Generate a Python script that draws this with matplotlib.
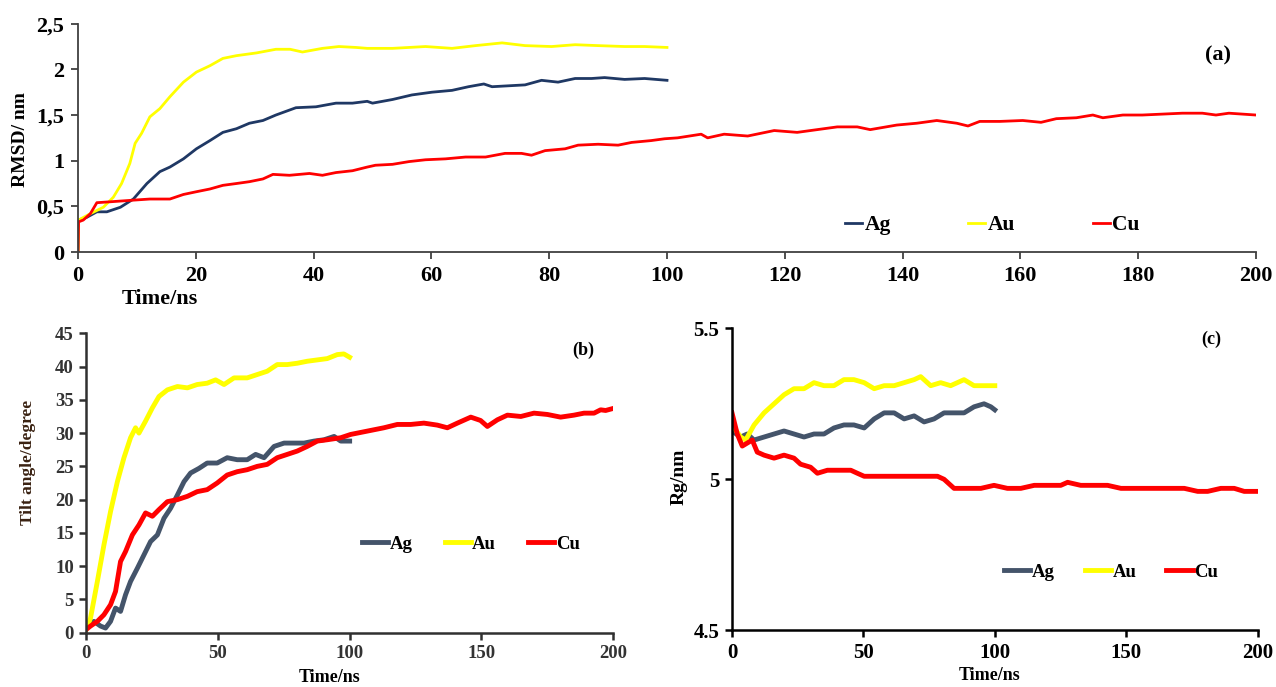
import matplotlib
matplotlib.use("Agg")
import matplotlib.pyplot as plt
from matplotlib.ticker import FixedLocator, FixedFormatter

# ---------------- data: panel (a) RMSD ----------------
a_ag_t = [0, 0.1, 1.5, 3.2, 4.9, 7.2, 9.4, 11.7, 13.9, 15.6, 17.9, 20.1, 22.4, 24.6, 26.9, 29.1,
          31.4, 33.6, 37.0, 40.4, 43.8, 46.6, 49.1, 50.0, 53.4, 56.7, 60.1, 63.5, 66.3, 68.9, 70.3,
          73.1, 75.9, 78.7, 81.5, 84.4, 87.2, 89.4, 92.8, 96.2, 100]
a_ag_v = [0, 0.35, 0.38, 0.44, 0.44, 0.49, 0.58, 0.75, 0.88, 0.93, 1.02, 1.13, 1.22, 1.31, 1.35, 1.41,
          1.44, 1.50, 1.58, 1.59, 1.63, 1.63, 1.65, 1.63, 1.67, 1.72, 1.75, 1.77, 1.81, 1.84, 1.81,
          1.82, 1.83, 1.88, 1.86, 1.90, 1.90, 1.91, 1.89, 1.90, 1.88]
a_au_t = [0, 0.1, 2.1, 4.3, 6.0, 7.4, 8.8, 9.7, 10.8, 12.2, 13.9, 15.6, 17.9, 20.1, 22.4, 24.6,
          26.9, 30.3, 33.6, 36.0, 38.1, 41.5, 44.3, 47.2, 49.1, 53.4, 59.0, 63.5, 67.5, 72.0, 75.9,
          80.4, 84.4, 88.3, 92.8, 96.2, 100]
a_au_v = [0, 0.35, 0.42, 0.49, 0.60, 0.75, 0.97, 1.19, 1.30, 1.48, 1.57, 1.70, 1.86, 1.97, 2.04, 2.12,
          2.15, 2.18, 2.22, 2.22, 2.19, 2.23, 2.25, 2.24, 2.23, 2.23, 2.25, 2.23, 2.26, 2.29, 2.26,
          2.25, 2.27, 2.26, 2.25, 2.25, 2.24]
a_cu_t = [0, 0.1, 0.9, 2.1, 3.2, 5.5, 7.7, 9.9, 12.2, 15.6, 17.9, 20.1, 22.4, 24.6, 26.9, 29.1, 31.4,
          33.1, 35.9, 39.3, 41.5, 43.8, 46.6, 49.1, 50.5, 53.4, 56.2, 59.0, 62.4, 65.8, 69.2, 72.5,
          75.3, 77.0, 79.3, 82.7, 84.9, 88.3, 91.7, 94.0, 97.3, 99.6, 101.8, 105.8, 106.9, 109.7,
          113.7, 118.2, 122.1, 125.5, 128.9, 132.3, 134.5, 139.0, 142.4, 145.8, 149.2, 151.1, 153.1,
          156.5, 160.4, 163.5, 166.1, 169.5, 172.3, 174.0, 177.4, 180.7, 184.1, 187.5, 190.9, 193.2,
          195.4, 200]
a_cu_v = [0, 0.33, 0.35, 0.42, 0.54, 0.55, 0.56, 0.57, 0.58, 0.58, 0.63, 0.66, 0.69, 0.73, 0.75, 0.77,
          0.80, 0.85, 0.84, 0.86, 0.84, 0.87, 0.89, 0.93, 0.95, 0.96, 0.99, 1.01, 1.02, 1.04, 1.04,
          1.08, 1.08, 1.06, 1.11, 1.13, 1.17, 1.18, 1.17, 1.20, 1.22, 1.24, 1.25, 1.29, 1.25, 1.29,
          1.27, 1.33, 1.31, 1.34, 1.37, 1.37, 1.34, 1.39, 1.41, 1.44, 1.41, 1.38, 1.43, 1.43, 1.44,
          1.42, 1.46, 1.47, 1.50, 1.47, 1.50, 1.50, 1.51, 1.52, 1.52, 1.50, 1.52, 1.50]
a_xticks = [0, 20, 40, 60, 80, 100, 120, 140, 160, 180, 200]
a_yticks = [0, 0.5, 1, 1.5, 2, 2.5]
a_yticklabels = ["0", "0,5", "1", "1,5", "2", "2,5"]

# ---------------- data: panel (b) tilt angle ----------------
b_ag_t = [0, 2.9, 5.4, 7.3, 9.2, 11.1, 13.0, 14.9, 16.8, 19.4, 21.9, 24.4, 27.0, 29.5, 32.0, 34.6,
          37.1, 39.6, 42.8, 45.9, 49.7, 53.5, 57.3, 61.1, 64.3, 67.5, 71.3, 75.1, 78.9, 82.7, 86.5,
          90.3, 94.1, 96.6, 100]
b_ag_v = [1.2, 1.7, 1.0, 0.7, 1.7, 3.7, 3.2, 5.7, 7.7, 9.7, 11.7, 13.7, 14.7, 17.2, 18.7, 20.7,
          22.7, 24.0, 24.7, 25.5, 25.5, 26.3, 26.0, 26.0, 26.8, 26.3, 28.0, 28.5, 28.5, 28.5, 28.8,
          29.0, 29.5, 28.8, 28.8]
b_au_t = [0, 1.6, 4.2, 6.7, 9.2, 11.8, 14.3, 16.8, 18.7, 20.0, 22.5, 25.1, 27.6, 30.8, 34.6, 38.4,
          42.1, 45.9, 49.1, 52.3, 56.1, 61.1, 64.9, 68.7, 72.5, 76.3, 80.1, 83.9, 87.7, 91.5, 95.3,
          97.8, 100]
b_au_v = [0.5, 2.2, 7.7, 13.2, 18.2, 22.7, 26.3, 29.3, 30.8, 30.0, 31.8, 33.8, 35.5, 36.5, 37.0, 36.8,
          37.3, 37.5, 38.0, 37.3, 38.3, 38.3, 38.8, 39.3, 40.3, 40.3, 40.5, 40.8, 41.0, 41.2, 41.8,
          41.9, 41.4]
b_cu_t = [0, 1.6, 4.2, 6.7, 9.2, 11.1, 13.0, 14.9, 17.5, 20.0, 22.5, 25.1, 27.6, 30.8, 34.6, 38.4,
          42.1, 45.9, 49.7, 53.5, 57.3, 61.1, 64.9, 68.7, 72.5, 76.3, 80.1, 83.9, 87.7, 91.5, 96.6,
          100.4, 106.7, 113.0, 118.1, 123.2, 128.2, 133.3, 137.1, 140.9, 146.0, 149.7, 152.3, 156.1,
          159.9, 165.0, 170.0, 175.1, 180.1, 185.2, 189.0, 192.8, 195.3, 197.2, 200]
b_cu_v = [0.5, 1.0, 1.7, 2.7, 4.2, 6.2, 10.7, 12.2, 14.7, 16.2, 18.0, 17.5, 18.5, 19.7, 20.0, 20.5,
          21.2, 21.5, 22.5, 23.7, 24.2, 24.5, 25.0, 25.3, 26.3, 26.8, 27.3, 28.0, 28.8, 29.0, 29.3,
          29.8, 30.3, 30.8, 31.3, 31.3, 31.5, 31.2, 30.8, 31.5, 32.4, 31.9, 31.0, 32.0, 32.7, 32.5,
          33.0, 32.8, 32.4, 32.7, 33.0, 33.0, 33.5, 33.4, 33.7]
b_xticks = [0, 50, 100, 150, 200]
b_yticks = [0, 5, 10, 15, 20, 25, 30, 35, 40, 45]

# ---------------- data: panel (c) radius of gyration ----------------
c_ag_t = [0, 3.3, 5.8, 8.4, 12.2, 16.0, 19.8, 23.6, 27.4, 31.2, 35.0, 38.8, 42.6, 46.4, 50.3, 54.1,
          57.9, 61.7, 65.5, 69.3, 73.1, 76.9, 80.7, 84.5, 88.3, 92.1, 95.9, 98.5, 100]
c_ag_v = [5.16, 5.14, 5.15, 5.13, 5.14, 5.15, 5.16, 5.15, 5.14, 5.15, 5.15, 5.17, 5.18, 5.18, 5.17,
          5.20, 5.22, 5.22, 5.20, 5.21, 5.19, 5.20, 5.22, 5.22, 5.22, 5.24, 5.25, 5.24, 5.23]
c_au_t = [0, 3.3, 5.2, 8.4, 12.2, 16.0, 19.8, 23.6, 27.4, 31.2, 35.0, 38.8, 42.6, 46.4, 50.3, 54.1,
          57.9, 61.7, 65.5, 69.3, 71.8, 75.6, 79.4, 83.2, 88.3, 92.1, 95.9, 100]
c_au_v = [5.18, 5.14, 5.13, 5.18, 5.22, 5.25, 5.28, 5.30, 5.30, 5.32, 5.31, 5.31, 5.33, 5.33, 5.32,
          5.30, 5.31, 5.31, 5.32, 5.33, 5.34, 5.31, 5.32, 5.31, 5.33, 5.31, 5.31, 5.31]
c_cu_t = [0, 2.0, 3.9, 5.8, 7.7, 9.6, 12.2, 16.0, 19.8, 23.6, 26.1, 29.9, 32.5, 36.3, 41.4, 45.2,
          47.7, 50.3, 54.1, 59.1, 64.2, 69.3, 74.4, 78.2, 80.7, 84.5, 89.6, 94.7, 99.7, 104.8, 109.9,
          115.0, 120.1, 125.1, 127.7, 132.7, 137.8, 142.9, 148.0, 153.1, 158.1, 163.2, 168.3, 172.1,
          177.2, 181.0, 186.0, 191.1, 194.9, 198.7, 200]
c_cu_v = [5.22, 5.15, 5.11, 5.12, 5.13, 5.09, 5.08, 5.07, 5.08, 5.07, 5.05, 5.04, 5.02, 5.03, 5.03,
          5.03, 5.02, 5.01, 5.01, 5.01, 5.01, 5.01, 5.01, 5.01, 5.00, 4.97, 4.97, 4.97, 4.98, 4.97,
          4.97, 4.98, 4.98, 4.98, 4.99, 4.98, 4.98, 4.98, 4.97, 4.97, 4.97, 4.97, 4.97, 4.97, 4.96,
          4.96, 4.97, 4.97, 4.96, 4.96, 4.96]
c_xticks = [0, 50, 100, 150, 200]
c_yticks = [4.5, 5, 5.5]
c_yticklabels = ["4.5", "5", "5.5"]

labels = ["Ag", "Au", "Cu"]

# ---------------- style ----------------
plt.rcParams["font.family"] = ["Liberation Serif", "DejaVu Serif"]
plt.rcParams["font.weight"] = "bold"
W, H = 1276, 687
fig = plt.figure(figsize=(W / 100, H / 100), dpi=100)

def fx(px):
    return px / W

def fy(py):
    return 1 - py / H

AG_A = "#1f3864"
AG_BC = "#44546a"
AU = "#ffff00"
CU = "#ff0000"

def style_axes(ax, spine_color, lw, fs, tick_color, pad):
    for s in ["top", "right"]:
        ax.spines[s].set_visible(False)
    for s in ["left", "bottom"]:
        ax.spines[s].set_color(spine_color)
        ax.spines[s].set_linewidth(lw)
    ax.tick_params(direction="out", length=5, width=lw, color=spine_color,
                   labelsize=fs, labelcolor=tick_color, pad=pad)
    for t in ax.get_xticklabels() + ax.get_yticklabels():
        t.set_fontweight("bold")

# ---------------- panel (a) ----------------
axa = fig.add_axes([fx(78), fy(252), fx(1256) - fx(78), fy(23.7) - fy(252)])
axa.plot(a_ag_t, a_ag_v, color=AG_A, lw=2.0, label=labels[0])
axa.plot(a_au_t, a_au_v, color=AU, lw=2.0, label=labels[1])
axa.plot(a_cu_t, a_cu_v, color=CU, lw=2.0, label=labels[2])
axa.set_xlim(0, 200)
axa.set_ylim(0, 2.5)
axa.xaxis.set_major_locator(FixedLocator(a_xticks))
axa.yaxis.set_major_locator(FixedLocator(a_yticks))
axa.yaxis.set_major_formatter(FixedFormatter(a_yticklabels))
style_axes(axa, "#404040", 1.3, 16, "black", 5)
fig.text(fx(160), fy(299), "Time/ns", ha="center", va="center", fontsize=16, fontweight="bold")
fig.text(fx(21), fy(140), "RMSD/ nm", ha="center", va="center", rotation=90, fontsize=14,
         fontweight="bold")
fig.text(fx(1218), fy(55), "(a)", ha="center", va="center", fontsize=16, fontweight="bold")
axa.legend(ncol=3, frameon=False, loc="center left", bbox_to_anchor=(fx(845), fy(225)),
           bbox_transform=fig.transFigure, borderpad=0, borderaxespad=0, handlelength=0.8,
           handletextpad=0.1, columnspacing=3.6, prop={"size": 15.5, "weight": "bold"})

# ---------------- panel (b) ----------------
axb = fig.add_axes([fx(86.3), fy(632.7), fx(613) - fx(86.3), fy(333.3) - fy(632.7)])
axb.plot(b_ag_t, b_ag_v, color=AG_BC, lw=3.5, label=labels[0])
axb.plot(b_au_t, b_au_v, color=AU, lw=3.5, label=labels[1])
axb.plot(b_cu_t, b_cu_v, color=CU, lw=3.5, label=labels[2])
axb.set_xlim(0, 200)
axb.set_ylim(0, 45)
axb.xaxis.set_major_locator(FixedLocator(b_xticks))
axb.yaxis.set_major_locator(FixedLocator(b_yticks))
style_axes(axb, "#303030", 1.8, 13.5, "#333333", 4)
fig.text(fx(330), fy(678), "Time/ns", ha="center", va="center", fontsize=13, fontweight="bold")
fig.text(fx(28), fy(462), "Tilt angle/degree", ha="center", va="center", rotation=90,
         fontsize=12.5, fontweight="bold", color="#3a2212")
fig.text(fx(583), fy(350), "(b)", ha="center", va="center", fontsize=13, fontweight="bold")
axb.legend(ncol=3, frameon=False, loc="center left", bbox_to_anchor=(fx(362), fy(544)),
           bbox_transform=fig.transFigure, borderpad=0, borderaxespad=0, handlelength=1.4,
           handletextpad=0.08, columnspacing=1.7, prop={"size": 13.5, "weight": "bold"})

# ---------------- panel (c) ----------------
axc = fig.add_axes([fx(732), fy(630.3), fx(1257.6) - fx(732), fy(328.3) - fy(630.3)])
axc.plot(c_ag_t, c_ag_v, color=AG_BC, lw=3.5, label=labels[0])
axc.plot(c_au_t, c_au_v, color=AU, lw=3.5, label=labels[1])
axc.plot(c_cu_t, c_cu_v, color=CU, lw=3.5, label=labels[2])
axc.set_xlim(0, 200)
axc.set_ylim(4.5, 5.5)
axc.xaxis.set_major_locator(FixedLocator(c_xticks))
axc.yaxis.set_major_locator(FixedLocator(c_yticks))
axc.yaxis.set_major_formatter(FixedFormatter(c_yticklabels))
style_axes(axc, "black", 1.8, 15, "black", 4)
fig.text(fx(990), fy(676), "Time/ns", ha="center", va="center", fontsize=13, fontweight="bold")
fig.text(fx(679), fy(477), "Rg/nm", ha="center", va="center", rotation=90, fontsize=14,
         fontweight="bold")
fig.text(fx(1211), fy(339), "(c)", ha="center", va="center", fontsize=13, fontweight="bold")
axc.legend(ncol=3, frameon=False, loc="center left", bbox_to_anchor=(fx(1004), fy(572)),
           bbox_transform=fig.transFigure, borderpad=0, borderaxespad=0, handlelength=1.4,
           handletextpad=0.08, columnspacing=1.6, prop={"size": 13.5, "weight": "bold"})

fig.savefig("out.png", dpi=100, facecolor="white")
